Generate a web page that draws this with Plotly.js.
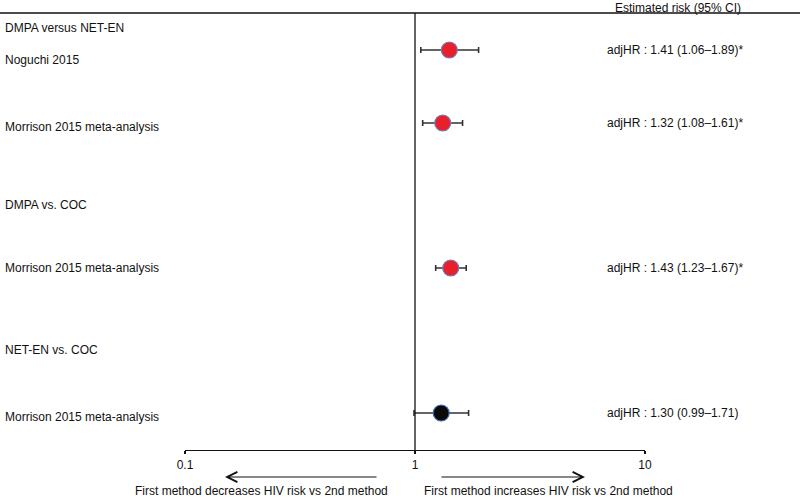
<!DOCTYPE html>
<html>
<head>
<meta charset="utf-8">
<script src="https://cdn.plot.ly/plotly-3.0.1.min.js"></script>
<style>
  html, body { margin: 0; padding: 0; background: #fff; }
  #chart { width: 800px; height: 498px; }
</style>
</head>
<body>
<div id="chart"></div>
<script>
// Data
var groups = ["DMPA versus NET-EN", "DMPA vs. COC", "NET-EN vs. COC"];
var studies = ["Noguchi 2015", "Morrison 2015 meta-analysis", "Morrison 2015 meta-analysis", "Morrison 2015 meta-analysis"];
var hr = [1.41, 1.32, 1.43, 1.30];
var lo = [1.06, 1.08, 1.23, 0.99];
var hi = [1.89, 1.61, 1.67, 1.71];
var significant = [true, true, true, false];
var tickVals = [0.1, 1, 10];
var tickText = ["0.1", "1", "10"];

// Row layout (pixel rows, y axis runs 0..498 top to bottom)
var groupY = [28, 205, 350];
var studyY = [50, 123, 268, 413];
var studyLabelY = [60, 127, 268, 417];
var axisY = 450;
var topY = 13;

var font = {family: "Liberation Sans, Arial, Helvetica, sans-serif", size: 12, color: "#111"};

function fmt(v) { return v.toFixed(2); }

var redIdx = [], blackIdx = [];
for (var i = 0; i < hr.length; i++) {
    if (significant[i]) { redIdx.push(i); } else { blackIdx.push(i); }
}

function pick(arr, idx) { return idx.map(function(k) { return arr[k]; }); }

function makeTrace(idx, fill, edge) {
    return {
        x: pick(hr, idx),
        y: pick(studyY, idx),
        mode: "markers",
        type: "scatter",
        marker: {size: 16, color: fill, line: {color: edge, width: 1.2}},
        error_x: {
            type: "data",
            symmetric: false,
            array: idx.map(function(k) { return hi[k] - hr[k]; }),
            arrayminus: idx.map(function(k) { return hr[k] - lo[k]; }),
            color: "#333",
            thickness: 1.6,
            width: 3
        },
        hoverinfo: "skip",
        showlegend: false,
        cliponaxis: false
    };
}

var data = [
    makeTrace(redIdx, "#e8202b", "#6f7fb8"),
    makeTrace(blackIdx, "#0a0a0a", "#3b6fb6")
];

var annotations = [];

// Group headers and study names
groups.forEach(function(g, k) {
    annotations.push({text: g, xref: "paper", x: 3 / 800, xanchor: "left", yref: "y", y: groupY[k],
        yanchor: "middle", showarrow: false, font: font});
});
studies.forEach(function(s, k) {
    annotations.push({text: s, xref: "paper", x: 3 / 800, xanchor: "left", yref: "y", y: studyLabelY[k],
        yanchor: "middle", showarrow: false, font: font});
    var lbl = "adjHR : " + fmt(hr[k]) + " (" + fmt(lo[k]) + "\u2013" + fmt(hi[k]) + ")" + (significant[k] ? "*" : "");
    annotations.push({text: lbl, xref: "paper", x: 605 / 800, xanchor: "left", yref: "y", y: studyY[k],
        yanchor: "middle", showarrow: false, font: font});
});

// Column header
annotations.push({text: "Estimated risk (95% CI)", xref: "paper", x: 742 / 800, xanchor: "right",
    yref: "y", y: 0, yanchor: "top", showarrow: false, font: font, borderpad: 0});

// Direction arrows and labels
annotations.push({text: "", xref: "paper", x: 225 / 800, yref: "y", y: 477,
    axref: "pixel", ax: 153, ayref: "pixel", ay: 0,
    showarrow: true, arrowhead: 5, arrowsize: 2, arrowwidth: 1, arrowcolor: "#111"});
annotations.push({text: "", xref: "paper", x: 585 / 800, yref: "y", y: 477,
    axref: "pixel", ax: -145, ayref: "pixel", ay: 0,
    showarrow: true, arrowhead: 5, arrowsize: 2, arrowwidth: 1, arrowcolor: "#111"});
annotations.push({text: "First method decreases HIV risk vs 2nd method", xref: "paper", x: 261 / 800,
    xanchor: "center", yref: "y", y: 491, yanchor: "middle", showarrow: false, font: font});
annotations.push({text: "First method increases HIV risk vs 2nd method", xref: "paper", x: 548 / 800,
    xanchor: "center", yref: "y", y: 491, yanchor: "middle", showarrow: false, font: font});

var layout = {
    width: 800,
    height: 498,
    margin: {l: 0, r: 0, t: 0, b: 0},
    paper_bgcolor: "#fff",
    plot_bgcolor: "#fff",
    font: font,
    showlegend: false,
    xaxis: {
        type: "log",
        range: [-1, 1],
        domain: [185 / 800, 645 / 800],
        anchor: "free",
        position: 1 - axisY / 498,
        tickvals: tickVals,
        ticktext: tickText,
        ticks: "outside",
        ticklen: 3,
        tickwidth: 1.2,
        tickcolor: "#111",
        showline: true,
        linecolor: "#111",
        linewidth: 1.2,
        showgrid: false,
        zeroline: false,
        tickfont: font,
        fixedrange: true
    },
    yaxis: {
        range: [498, 0],
        domain: [0, 1],
        visible: false,
        showgrid: false,
        zeroline: false,
        fixedrange: true
    },
    shapes: [
        // line of no effect
        {type: "line", xref: "x", x0: 1, x1: 1, yref: "y", y0: topY, y1: axisY,
            line: {color: "#111", width: 1.3}},
        // top rule
        {type: "line", xref: "paper", x0: 0, x1: 1, yref: "y", y0: topY, y1: topY,
            line: {color: "#111", width: 1.3}}
    ],
    annotations: annotations
};

Plotly.newPlot("chart", data, layout, {displayModeBar: false, staticPlot: true});
</script>
</body>
</html>
